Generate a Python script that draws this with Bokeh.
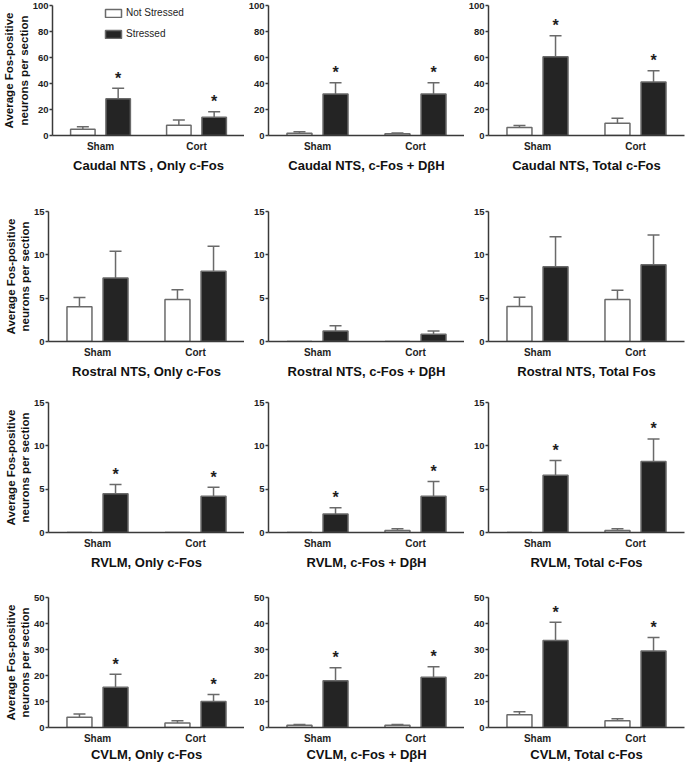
from bokeh.plotting import figure
from bokeh.models import (Range1d, FixedTicker, ColumnDataSource, Whisker, TeeHead,
                          Legend, LegendItem)
from bokeh.layouts import column, row
from bokeh.embed import file_html
from bokeh.resources import INLINE
from bokeh.core.properties import value

# ---------------- data ----------------
categories = ["Sham", "Cort"]
series_names = ["Not Stressed", "Stressed"]

titles = [
    "Caudal NTS , Only c-Fos", "Caudal NTS, c-Fos + DβH", "Caudal NTS, Total c-Fos",
    "Rostral NTS, Only c-Fos", "Rostral NTS, c-Fos + DβH", "Rostral NTS, Total Fos",
    "RVLM, Only c-Fos", "RVLM, c-Fos + DβH", "RVLM, Total c-Fos",
    "CVLM, Only c-Fos", "CVLM, c-Fos + DβH", "CVLM, Total c-Fos",
]
row_ymax = [100, 15, 15, 50]
row_ticks = [[0, 20, 40, 60, 80, 100], [0, 5, 10, 15], [0, 5, 10, 15], [0, 10, 20, 30, 40, 50]]
y_label = "Average Fos-positive\nneurons per section"

# Not Stressed (mean, SEM) per panel: [Sham, Cort]
ns_mean = [[4.8, 7.9], [1.8, 1.3], [6.1, 9.5],
           [4.0, 4.86], [0.0, 0.0], [4.05, 4.85],
           [0.0, 0.0], [0.0, 0.23], [0.0, 0.23],
           [3.96, 1.69], [0.9, 0.9], [4.9, 2.58]]
ns_err = [[1.9, 4.1], [1.0, 0.7], [1.6, 3.8],
          [1.08, 1.1], [0.0, 0.0], [1.05, 1.07],
          [0.0, 0.0], [0.0, 0.19], [0.0, 0.19],
          [1.28, 0.87], [0.3, 0.3], [1.15, 0.77]]
# Stressed (mean, SEM)
s_mean = [[28.2, 14.1], [32.0, 32.0], [60.6, 41.2],
          [7.33, 8.1], [1.22, 0.84], [8.63, 8.87],
          [4.47, 4.17], [2.13, 4.17], [6.6, 8.2],
          [15.5, 10.0], [18.0, 19.3], [33.5, 29.4]]
s_err = [[8.2, 4.1], [8.5, 8.5], [16.1, 8.7],
         [3.07, 2.9], [0.61, 0.38], [3.47, 3.43],
         [1.07, 1.06], [0.73, 1.71], [1.7, 2.6],
         [5.0, 2.7], [5.0, 4.1], [7.0, 5.2]]
# significance marks on Stressed bars
s_sig = [[True, True], [True, True], [True, True],
         [False, False], [False, False], [False, False],
         [True, True], [True, True], [True, True],
         [True, True], [True, True], [True, True]]

# ---------------- style / geometry ----------------
FONT = "Liberation Sans"
FRAME_W, FRAME_H = 196, 130
col_left = [48, 24, 24]
col_right = [0, 0, 1]
row_top = [5, 20, 20, 20]
row_bottom = [56, 41, 45, 37]
title_standoff = [3, 3, 3, 0]
OFFSET = 0.184
BAR_W = 0.255
AX_COLOR = "#3a3a3a"
EDGE = "#6a6a6a"
DARK = "#242424"

group_x = [i + 1 for i in range(len(categories))]


def make_panel(k, r, c):
    w = col_left[c] + FRAME_W + col_right[c]
    h = row_top[r] + FRAME_H + row_bottom[r]
    p = figure(width=w, height=h, output_backend="svg", toolbar_location=None,
               x_range=Range1d(0.5, 2.5), y_range=Range1d(0, row_ymax[r]),
               min_border_left=col_left[c], min_border_right=col_right[c],
               min_border_top=row_top[r], min_border_bottom=row_bottom[r])
    p.outline_line_color = None
    p.xgrid.visible = False
    p.ygrid.visible = False
    p.background_fill_color = "white"
    p.border_fill_color = "white"

    rend = []
    for si, (means, errs, fill) in enumerate([(ns_mean[k], ns_err[k], "white"),
                                              (s_mean[k], s_err[k], DARK)]):
        off = -OFFSET if si == 0 else OFFSET
        xs = [g + off for g in group_x]
        src = ColumnDataSource(dict(x=xs, top=means))
        rb = p.vbar(x="x", top="top", width=BAR_W, source=src, fill_color=fill,
                    line_color=EDGE, line_width=1.5)
        rend.append(rb)
        keep = [i for i, e in enumerate(errs) if e > 0]
        if keep:
            wsrc = ColumnDataSource(dict(x=[xs[i] for i in keep],
                                         lo=[means[i] for i in keep],
                                         hi=[means[i] + errs[i] for i in keep]))
            p.add_layout(Whisker(base="x", lower="lo", upper="hi", source=wsrc,
                                 line_color=EDGE, line_width=1.5,
                                 upper_head=TeeHead(size=12, line_color=EDGE, line_width=1.5),
                                 lower_head=None))
        if si == 1:
            idx = [i for i, sg in enumerate(s_sig[k]) if sg]
            if idx:
                tsrc = ColumnDataSource(dict(x=[xs[i] for i in idx],
                                             y=[means[i] + errs[i] for i in idx],
                                             t=["*"] * len(idx)))
                p.text(x="x", y="y", text="t", source=tsrc,
                       text_font=value(FONT), text_font_size="16px",
                       text_font_style="bold", text_align="center",
                       text_baseline="alphabetic", y_offset=-10,
                       text_color="#1e1e1e")

    # x axis
    xa = p.xaxis[0]
    xa.ticker = FixedTicker(ticks=group_x)
    xa.major_label_overrides = {g: cat for g, cat in zip(group_x, categories)}
    xa.axis_line_color = AX_COLOR
    xa.axis_line_width = 1.5
    xa.major_tick_line_color = None
    xa.major_tick_out = 0
    xa.major_tick_in = 0
    xa.minor_tick_line_color = None
    xa.minor_tick_out = 0
    xa.major_label_standoff = 5
    xa.major_label_text_font = FONT
    xa.major_label_text_font_size = "10px"
    xa.major_label_text_font_style = "bold"
    xa.major_label_text_color = "#1e1e1e"
    xa.axis_label = titles[k]
    xa.axis_label_text_font = FONT
    xa.axis_label_text_font_size = "13px"
    xa.axis_label_text_font_style = "bold"
    xa.axis_label_text_color = "#111111"
    xa.axis_label_standoff = title_standoff[r]

    # y axis
    ya = p.yaxis[0]
    ya.ticker = FixedTicker(ticks=row_ticks[r])
    ya.axis_line_color = AX_COLOR
    ya.axis_line_width = 1.5
    ya.major_tick_line_color = AX_COLOR
    ya.major_tick_line_width = 1.5
    ya.major_tick_out = 3
    ya.major_tick_in = 0
    ya.minor_tick_line_color = None
    ya.minor_tick_out = 0
    ya.major_label_standoff = 1
    ya.major_label_text_font = FONT
    ya.major_label_text_font_size = "9.5px"
    ya.major_label_text_font_style = "bold"
    ya.major_label_text_color = "#1e1e1e"
    if c == 0:
        ya.axis_label = y_label
        ya.axis_label_text_font = FONT
        ya.axis_label_text_font_size = "11.5px"
        ya.axis_label_text_font_style = "bold"
        ya.axis_label_text_color = "#111111"
        ya.axis_label_standoff = 0

    if k == 0:
        leg = Legend(items=[LegendItem(label=series_names[0], renderers=[rend[0]]),
                            LegendItem(label=series_names[1], renderers=[rend[1]])],
                     location=(51, 96), orientation="vertical",
                     background_fill_alpha=0, border_line_color=None,
                     padding=0, margin=0, spacing=10,
                     glyph_width=20, glyph_height=10, label_height=10,
                     label_standoff=3, label_text_font=FONT,
                     label_text_font_size="10px", label_text_color="#1e1e1e")
        p.add_layout(leg)
    return p


rows = []
for r in range(4):
    figs = [make_panel(r * 3 + c, r, c) for c in range(3)]
    rows.append(row(*figs))
layout = column(*rows)

open("out.html", "w").write(file_html(layout, INLINE))
